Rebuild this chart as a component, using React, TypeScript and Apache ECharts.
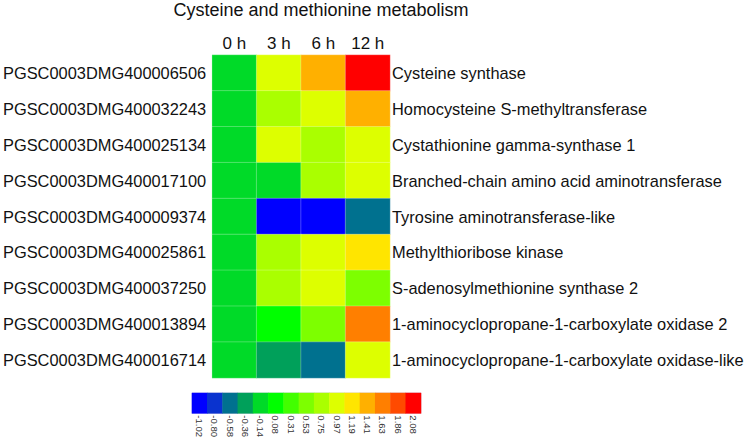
import React, { useEffect, useRef } from "react";
import * as echarts from "echarts";

const TITLE = "Cysteine and methionine metabolism";
const timePoints = ["0 h", "3 h", "6 h", "12 h"];
const geneIds = [
  "PGSC0003DMG400006506",
  "PGSC0003DMG400032243",
  "PGSC0003DMG400025134",
  "PGSC0003DMG400017100",
  "PGSC0003DMG400009374",
  "PGSC0003DMG400025861",
  "PGSC0003DMG400037250",
  "PGSC0003DMG400013894",
  "PGSC0003DMG400016714",
];
const geneNames = [
  "Cysteine synthase",
  "Homocysteine S-methyltransferase",
  "Cystathionine gamma-synthase 1",
  "Branched-chain amino acid aminotransferase",
  "Tyrosine aminotransferase-like",
  "Methylthioribose kinase",
  "S-adenosylmethionine synthase 2",
  "1-aminocyclopropane-1-carboxylate oxidase 2",
  "1-aminocyclopropane-1-carboxylate oxidase-like",
];
// rows: genes, columns: 0 h, 3 h, 6 h, 12 h
const expression = [
  [0, 1.08, 1.52, 2.08],
  [0, 0.86, 1.05, 1.48],
  [0, 1.02, 0.84, 1.1],
  [0, 0.02, 0.88, 1.04],
  [0, -1.02, -0.98, -0.5],
  [0, 0.82, 1.12, 1.3],
  [0, 0.8, 1.06, 0.64],
  [0, 0.18, 0.6, 1.72],
  [0, -0.28, -0.48, 1.0],
];
const scaleTicks = [-1.02, -0.8, -0.58, -0.36, -0.14, 0.08, 0.31, 0.53, 0.75, 0.97, 1.19, 1.41, 1.63, 1.86, 2.08];
const scaleColors = [
  "#0000ff", "#0a33cf", "#00718f", "#00a05a", "#00da28",
  "#00ff00", "#42ff00", "#7dff00", "#aaff00", "#ddff00",
  "#ffe500", "#ffb000", "#ff7f00", "#ff4a00", "#ff0000",
];

const FONT = "'Liberation Sans', Arial, sans-serif";

export default function App() {
  const ref = useRef<HTMLDivElement>(null);
  useEffect(() => {
    document.body.style.margin = "0";
    const chart = echarts.init(ref.current!, undefined, { renderer: "svg" });
    const heatData: [number, number, number][] = [];
    expression.forEach((row, r) => row.forEach((v, c) => heatData.push([c, r, v])));
    const legendData = scaleTicks.map((v, i) => [i, 0, v]);
    const pieces = scaleTicks.map((t, i) => {
      const p: any = { color: scaleColors[i] };
      if (i > 0) p.gte = t - 1e-9;
      if (i < scaleTicks.length - 1) p.lt = scaleTicks[i + 1] - 1e-9;
      return p;
    });
    chart.setOption({
      animation: false,
      textStyle: { fontFamily: FONT },
      title: {
        text: TITLE,
        left: 316,
        top: -4,
        textAlign: "center",
        textStyle: { fontSize: 18, fontWeight: "normal", color: "#111", fontFamily: FONT },
      },
      visualMap: {
        type: "piecewise",
        show: false,
        pieces,
        seriesIndex: [0, 1],
        dimension: 2,
      },
      grid: [
        { left: 212, top: 55, width: 178, height: 323 },
        { left: 192, top: 393, width: 229, height: 23, show: true, borderColor: "#d8cfe8", borderWidth: 1 },
      ],
      xAxis: [
        {
          type: "category",
          gridIndex: 0,
          data: timePoints,
          position: "top",
          axisLine: { show: false },
          axisTick: { show: false },
          axisLabel: { fontSize: 17, color: "#111", margin: 3, interval: 0, fontFamily: FONT },
        },
        {
          type: "category",
          gridIndex: 1,
          data: scaleTicks.map((t) => t.toFixed(2)),
          position: "bottom",
          axisLine: { show: false },
          axisTick: { show: false },
          axisLabel: { fontSize: 9.5, color: "#333", margin: 2, rotate: -90, interval: 0, fontFamily: FONT, padding: [6, 0, 0, 0] },
        },
      ],
      yAxis: [
        {
          type: "category",
          gridIndex: 0,
          data: geneIds,
          inverse: true,
          position: "left",
          axisLine: { show: false },
          axisTick: { show: false },
          axisLabel: { fontSize: 16.4, color: "#111", margin: 6, interval: 0, fontFamily: FONT },
        },
        {
          type: "category",
          gridIndex: 0,
          data: geneNames,
          inverse: true,
          position: "right",
          axisLine: { show: false },
          axisTick: { show: false },
          axisLabel: { fontSize: 16.4, color: "#111", margin: 2, interval: 0, fontFamily: FONT },
        },
        {
          type: "category",
          gridIndex: 1,
          data: [""],
          show: false,
        },
      ],
      series: [
        {
          type: "heatmap",
          xAxisIndex: 0,
          yAxisIndex: 0,
          data: heatData,
          itemStyle: { borderColor: "rgba(255,255,255,0.25)", borderWidth: 1 },
          emphasis: { disabled: true },
        },
        {
          type: "heatmap",
          xAxisIndex: 1,
          yAxisIndex: 2,
          data: legendData,
          emphasis: { disabled: true },
        },
      ],
    });
    return () => chart.dispose();
  }, []);
  return <div ref={ref} style={{ width: 749, height: 440 }} />;
}
